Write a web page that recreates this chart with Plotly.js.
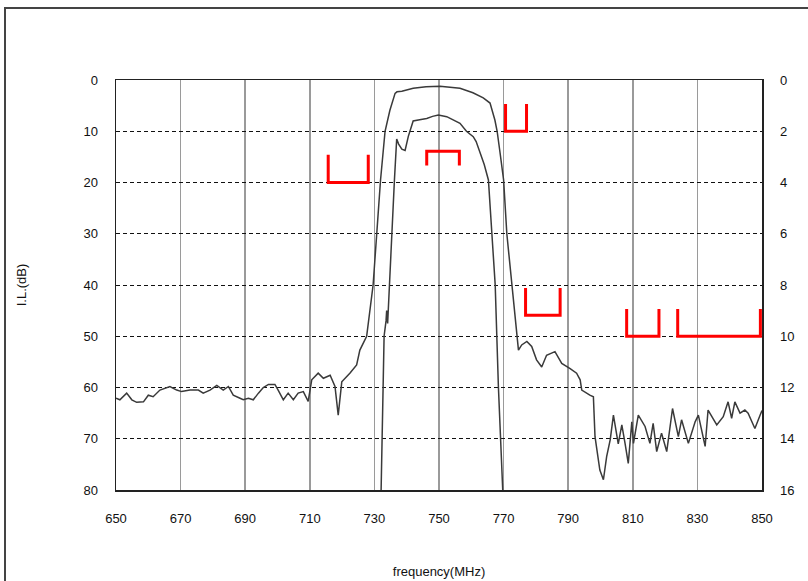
<!DOCTYPE html>
<html>
<head>
<meta charset="utf-8">
<script src="https://cdn.plot.ly/plotly-3.0.1.min.js"></script>
<style>
  html, body { margin: 0; padding: 0; background: #fff; }
  #wrap { position: relative; width: 808px; height: 581px; }
  #chart { width: 808px; height: 581px; }
  #frame { position: absolute; left: 4px; top: 7px; right: 0; bottom: 0;
           border-top: 2px solid #444; border-left: 2px solid #444; pointer-events: none; }
</style>
</head>
<body>
<div id="wrap"><div id="chart"></div><div id="frame"></div></div>
<script>
// Wide-band response (left axis, dB)
const wideFreq = [650, 651.2, 653.3, 654.9, 656.4, 658.5, 660, 661.5, 663.6, 666.7, 668.8, 670.3, 672.9, 675.5, 677, 679.1, 681.2, 683.2, 684.8, 686.3, 688.4, 689.4, 691, 692.5, 694.1, 695.6, 697.2, 699.2, 700.2, 701.8, 703.3, 704.9, 706.4, 708, 709.5, 710.6, 712.6, 714.2, 716.3, 717.8, 718.8, 719.9, 722.4, 724.5, 725.5, 727.6, 729.6, 730.7, 731.9, 733.3, 734.8, 736.4, 737, 738.5, 740, 742, 746, 750.3, 756.5, 760.5, 763.7, 765.8, 767.3, 768, 768.9, 770, 771, 772.5, 773.5, 774, 774.6, 775.6, 777.2, 778.7, 780.2, 781.8, 783.3, 785.9, 786.8, 788, 790.6, 792.6, 793.7, 794.2, 796.7, 797.8, 798.3, 799.3, 799.8, 800.9, 801.9, 803, 804, 805.5, 806.6, 807.6, 808.6, 809.7, 810.2, 811.7, 813.8, 815.3, 816.3, 817.4, 818.9, 820.5, 822.3, 824.1, 825.1, 827.2, 829.3, 830.3, 832.4, 833.3, 836, 838, 839.5, 840.6, 841.6, 843.2, 844.7, 845.7, 847.8, 849.4, 850];
const wideLoss = [62.1, 62.4, 61.1, 62.4, 62.9, 62.8, 61.5, 61.8, 60.5, 59.8, 60.5, 60.8, 60.5, 60.5, 61.1, 60.5, 59.6, 60.5, 59.8, 61.5, 62.1, 62.4, 62.1, 62.4, 61.1, 60.0, 59.4, 59.4, 60.5, 62.4, 61.1, 62.4, 61.1, 60.8, 62.7, 58.5, 57.2, 58.2, 57.6, 59.8, 65.4, 58.9, 57.2, 55.6, 52.7, 50, 40, 30, 19.5, 10, 5.9, 2.6, 2.3, 2.2, 2.0, 1.6, 1.3, 1.2, 1.6, 2.5, 3.5, 4.5, 7.8, 10, 14.2, 19.5, 30, 40, 46.8, 50, 52.7, 51.7, 51, 52, 54.6, 56, 53.7, 53, 54, 55.3, 56.3, 57.2, 58.5, 60.5, 61.5, 61.8, 69.6, 74, 76.1, 78, 73.5, 70.2, 65.4, 71, 67.3, 70.9, 74.8, 66.7, 70.9, 65.4, 67.6, 70.9, 67, 72.5, 68.9, 72.5, 64.1, 69.6, 66.3, 70.9, 66.7, 65.4, 71.5, 64.4, 67.3, 65.7, 62.8, 66, 62.8, 65, 64.4, 65, 68, 65.4, 64.5];

// Pass-band detail (right axis, dB)
const passFreq = [732.0, 732.6, 733.0, 733.6, 733.8, 734.1, 734.6, 735.4, 735.8, 736.2, 736.9, 737.5, 738.5, 739.5, 740.5, 742, 744, 746.2, 748, 749.8, 752.4, 754.5, 756.5, 758.5, 760.6, 761.5, 762.7, 764, 765.3, 766.2, 767.4, 768.4, 769.2, 769.9];
const passLoss = [16.5, 12, 10, 9.4, 9.0, 9.5, 8.0, 6.0, 5.0, 3.9, 2.3, 2.5, 2.7, 2.75, 2.2, 1.6, 1.55, 1.5, 1.42, 1.37, 1.43, 1.55, 1.69, 2.0, 2.21, 2.4, 2.86, 3.3, 3.9, 5.5, 8.0, 12, 14.5, 16.5];

// Specification masks (left axis, dB)
const maskFreq = [715.7, 715.7, 728.1, 728.1, null, 746.2, 746.2, 756.3, 756.3, null, 770.6, 770.6, 777.1, 777.1, null, 776.8, 776.8, 787.5, 787.5, null, 808.1, 808.1, 818.1, 818.1, null, 823.9, 823.9, 849.5, 849.5];
const maskLoss = [14.6, 20, 20, 14.6, null, 16.7, 13.9, 13.9, 16.7, null, 4.7, 10, 10, 4.7, null, 40.6, 45.9, 45.9, 40.6, null, 44.7, 50, 50, 44.7, null, 44.7, 50, 50, 44.7];

// Tick labels
const xTicks = [650, 670, 690, 710, 730, 750, 770, 790, 810, 830, 850];
const yLeftTicks = [0, 10, 20, 30, 40, 50, 60, 70, 80];
const yRightTicks = [0, 2, 4, 6, 8, 10, 12, 14, 16];

const font = {family: 'Liberation Sans, Arial, sans-serif', size: 13, color: '#111'};

const traces = [
  {x: wideFreq, y: wideLoss, type: 'scatter', mode: 'lines', yaxis: 'y',
   line: {color: '#3a3a3a', width: 1.5}, hoverinfo: 'x+y'},
  {x: passFreq, y: passLoss, type: 'scatter', mode: 'lines', yaxis: 'y2',
   line: {color: '#3a3a3a', width: 1.5}, hoverinfo: 'x+y'},
  {x: maskFreq, y: maskLoss, type: 'scatter', mode: 'lines', yaxis: 'y',
   line: {color: '#ff0000', width: 3}, connectgaps: false, hoverinfo: 'skip'}
];

const layout = {
  width: 808, height: 581,
  margin: {l: 116, r: 46, t: 80, b: 91},
  paper_bgcolor: '#fff', plot_bgcolor: '#fff',
  showlegend: false,
  font: font,
  xaxis: {
    range: [650, 850], tickvals: xTicks, ticktext: xTicks.map(String),
    showgrid: true, gridcolor: '#9a9a9a', gridwidth: 1.5,
    showline: true, mirror: true, linecolor: '#222', linewidth: 1.5,
    zeroline: false, ticks: 'outside', ticklen: 16, tickcolor: 'rgba(0,0,0,0)',
    tickfont: font, automargin: false,
    title: {text: 'frequency(MHz)', font: font, standoff: 42}
  },
  yaxis: {
    range: [80, 0], tickvals: yLeftTicks, ticktext: yLeftTicks.map(String),
    showgrid: true, gridcolor: '#111', gridwidth: 1, griddash: '4px,3px',
    showline: true, mirror: true, linecolor: '#222', linewidth: 1.5,
    zeroline: false, ticks: 'outside', ticklen: 14, tickcolor: 'rgba(0,0,0,0)',
    tickfont: font, automargin: false,
    title: {text: 'I.L.(dB)', font: font, standoff: 54}
  },
  yaxis2: {
    overlaying: 'y', side: 'right',
    range: [16, 0], tickvals: yRightTicks, ticktext: yRightTicks.map(String),
    showgrid: false, showline: true, linecolor: '#222', linewidth: 1.5,
    zeroline: false, ticks: 'outside', ticklen: 14, tickcolor: 'rgba(0,0,0,0)',
    tickfont: font, automargin: false
  }
};

Plotly.newPlot('chart', traces, layout, {displayModeBar: false, staticPlot: true});
</script>
</body>
</html>
